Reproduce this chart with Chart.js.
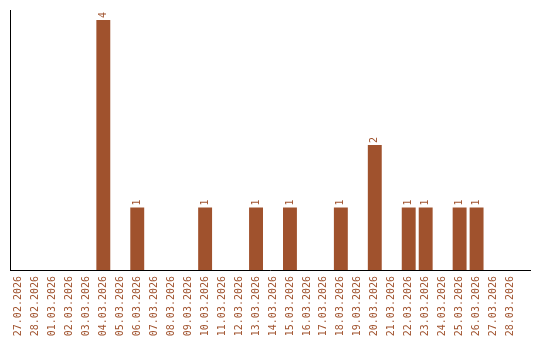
<!DOCTYPE html>
<html>
<head>
<meta charset="utf-8">
<script src="https://cdn.jsdelivr.net/npm/chart.js@4.4.1/dist/chart.umd.min.js"></script>
<style>
  html, body { margin: 0; padding: 0; background: #fff; }
  #wrap { width: 540px; height: 340px; }
</style>
</head>
<body>
<div id="wrap"><canvas id="chart" width="540" height="340"></canvas></div>
<script>
const dates = [
  '27.02.2026', '28.02.2026', '01.03.2026', '02.03.2026', '03.03.2026',
  '04.03.2026', '05.03.2026', '06.03.2026', '07.03.2026', '08.03.2026',
  '09.03.2026', '10.03.2026', '11.03.2026', '12.03.2026', '13.03.2026',
  '14.03.2026', '15.03.2026', '16.03.2026', '17.03.2026', '18.03.2026',
  '19.03.2026', '20.03.2026', '21.03.2026', '22.03.2026', '23.03.2026',
  '24.03.2026', '25.03.2026', '26.03.2026', '27.03.2026', '28.03.2026'
];
const counts = [
  0, 0, 0, 0, 0,
  4, 0, 1, 0, 0,
  0, 1, 0, 0, 1,
  0, 1, 0, 0, 1,
  0, 2, 0, 1, 1,
  0, 1, 1, 0, 0
];

const barColor = '#a0522d';
const monoFont = '"DejaVu Sans Mono", "Liberation Mono", monospace';

// value labels above the bars, rotated like the tick labels
const barLabels = {
  id: 'barLabels',
  afterDatasetsDraw(chart) {
    const ctx = chart.ctx;
    const meta = chart.getDatasetMeta(0);
    ctx.save();
    ctx.fillStyle = barColor;
    ctx.font = '10px ' + monoFont;
    ctx.textAlign = 'left';
    ctx.textBaseline = 'middle';
    meta.data.forEach((bar, i) => {
      if (!counts[i]) return;
      ctx.save();
      ctx.translate(bar.x, bar.y - 2);
      ctx.rotate(-Math.PI / 2);
      ctx.fillText(String(counts[i]), 0, 0);
      ctx.restore();
    });
    ctx.restore();
  }
};

// the x axis line runs a bit past the last category
const axisLine = {
  id: 'axisLine',
  afterDraw(chart) {
    const ctx = chart.ctx;
    const area = chart.chartArea;
    ctx.save();
    ctx.strokeStyle = '#000';
    ctx.lineWidth = 1;
    ctx.beginPath();
    ctx.moveTo(area.left, Math.round(area.bottom) + 0.5);
    ctx.lineTo(chart.width - 9, Math.round(area.bottom) + 0.5);
    ctx.stroke();
    ctx.restore();
  }
};

new Chart(document.getElementById('chart'), {
  type: 'bar',
  data: {
    labels: dates,
    datasets: [{
      data: counts,
      backgroundColor: barColor,
      borderWidth: 0,
      barPercentage: 0.82,
      categoryPercentage: 1
    }]
  },
  options: {
    responsive: false,
    animation: false,
    layout: { padding: { left: 10, right: 21, top: 10, bottom: 0 } },
    plugins: {
      legend: { display: false },
      tooltip: { enabled: false }
    },
    scales: {
      x: {
        grid: { display: false, drawTicks: false },
        border: { display: false },
        ticks: {
          color: barColor,
          font: { family: monoFont, size: 10 },
          minRotation: 90,
          maxRotation: 90,
          autoSkip: false,
          padding: 6
        },
        afterFit(scale) { scale.height = 70; }
      },
      y: {
        min: 0,
        max: 4.16,
        grid: { display: false, drawTicks: false },
        border: { display: true, color: '#000', width: 1 },
        ticks: { display: false },
        afterFit(scale) { scale.width = 0; }
      }
    }
  },
  plugins: [barLabels, axisLine]
});
</script>
</body>
</html>
